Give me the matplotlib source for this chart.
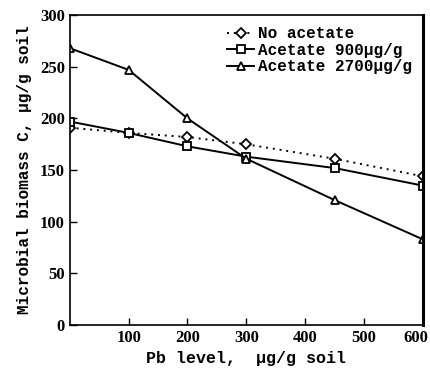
import matplotlib
matplotlib.use("Agg")
import matplotlib.pyplot as plt
import matplotlib.transforms as mtransforms

pb = [0, 100, 200, 300, 450, 600]
no_acetate = [191, 186, 182, 175, 161, 144]
acetate_900 = [197, 186, 173, 163, 152, 135]
acetate_2700 = [268, 247, 200, 161, 121, 83]

xticks = [100, 200, 300, 400, 500, 600]
yticks = [0, 50, 100, 150, 200, 250, 300]

plt.rcParams['font.family'] = ['Liberation Serif', 'DejaVu Serif']

fig = plt.figure(figsize=(4.31, 3.78), dpi=100)
ax = fig.add_axes([0.162, 0.140, 0.819, 0.820])

ax.plot(pb, no_acetate, linestyle=(0, (1, 2.5)), color='black', lw=1.4,
        marker='D', markersize=5.5, mfc='white', mec='black', mew=1.3,
        label='No acetate')
ax.plot(pb, acetate_900, linestyle='-', color='black', lw=1.4,
        marker='s', markersize=5.5, mfc='white', mec='black', mew=1.3,
        label='Acetate 900μg/g')
ax.plot(pb, acetate_2700, linestyle='-', color='black', lw=1.4,
        marker='^', markersize=6, mfc='white', mec='black', mew=1.3,
        label='Acetate 2700μg/g')

ax.set_xlim(0, 600)
ax.set_ylim(0, 300)
ax.set_xticks(xticks)
ax.set_yticks(yticks)
ax.tick_params(direction='in', length=5, width=1, labelsize=12)
for lab in ax.get_xticklabels() + ax.get_yticklabels():
    lab.set_fontweight('bold')
last = ax.get_xticklabels()[-1]
last.set_transform(last.get_transform() + mtransforms.ScaledTranslation(-0.07, 0, fig.dpi_scale_trans))
for s in ax.spines.values():
    s.set_linewidth(1.2)
ax.spines['right'].set_linewidth(2.2)

ax.set_xlabel('Pb level,  μg/g soil', fontsize=12, family=['Liberation Mono', 'DejaVu Sans Mono'],
              fontweight='bold', labelpad=4)
ax.set_ylabel('Microbial biomass C, μg/g soil', fontsize=11.5,
              family=['Liberation Mono', 'DejaVu Sans Mono'], fontweight='bold', labelpad=6)

leg = ax.legend(loc='upper right', frameon=False, handlelength=1.7,
                handletextpad=0.2, labelspacing=0.1, borderaxespad=0.3,
                prop={'family': ['Liberation Mono', 'DejaVu Sans Mono'], 'weight': 'bold', 'size': 11.5})

fig.savefig('out.png', dpi=100)
